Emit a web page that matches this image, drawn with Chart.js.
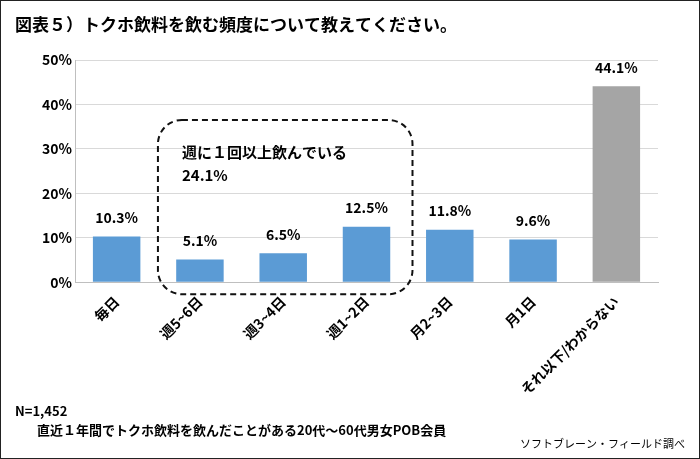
<!DOCTYPE html>
<html><head><meta charset="utf-8">
<script src="https://cdn.jsdelivr.net/npm/chart.js@4"></script>
<style>
html,body{margin:0;padding:0;background:#fff}
#wrap{width:700px;height:459px;position:relative;box-sizing:border-box;border:1.5px solid #222}
</style></head><body>
<div id="wrap"><canvas id="c" width="697" height="456"></canvas></div>
<script>
var categories = ['毎日', '週5~6日', '週3~4日', '週1~2日', '月2~3日', '月1日', 'それ以下/わからない'];
var values = [10.3, 5.1, 6.5, 12.5, 11.8, 9.6, 44.1];
var barColors = ['#5B9BD5', '#5B9BD5', '#5B9BD5', '#5B9BD5', '#5B9BD5', '#5B9BD5', '#A5A5A5'];
var weeklyTotal = 24.1;
var FONT = '"Noto Sans CJK JP", "Noto Sans", sans-serif';

var extras = {
    id: 'extras',
    afterDatasetsDraw: function(chart) {
        var ctx = chart.ctx, x = chart.scales.x, y = chart.scales.y;
        ctx.save();
        ctx.fillStyle = '#000';
        ctx.font = 'bold 14px ' + FONT;
        ctx.textAlign = 'center';
        ctx.textBaseline = 'bottom';
        var meta = chart.getDatasetMeta(0);
        meta.data.forEach(function(bar, i) {
            ctx.fillText(values[i].toFixed(1) + '%', bar.x, bar.y - 12);
        });
        // dashed box around weekly bars
        var left = x.getPixelForValue(1) - 42, right = x.getPixelForValue(3) + 46;
        var top = y.getPixelForValue(36.5), bottom = y.getPixelForValue(-2.7);
        ctx.setLineDash([6, 4]);
        ctx.lineWidth = 2;
        ctx.strokeStyle = '#111';
        ctx.beginPath();
        ctx.roundRect(left, top, right - left, bottom - top, 24);
        ctx.stroke();
        ctx.setLineDash([]);
        ctx.textAlign = 'left';
        ctx.textBaseline = 'middle';
        ctx.font = 'bold 15px ' + FONT;
        ctx.fillText('週に１回以上飲んでいる', left + 24, top + 32);
        ctx.fillText(weeklyTotal.toFixed(1) + '%', left + 24, top + 55);
        // title and footer
        ctx.font = 'bold 17px ' + FONT;
        ctx.fillText('図表５）トクホ飲料を飲む頻度について教えてください。', 14, 24);
        ctx.font = 'bold 13px ' + FONT;
        ctx.fillText('N=1,452', 14, 410);
        ctx.fillText('直近１年間でトクホ飲料を飲んだことがある20代～60代男女POB会員', 36, 429);
        ctx.font = '11px ' + FONT;
        ctx.textAlign = 'right';
        ctx.fillText('ソフトブレーン・フィールド調べ', 684, 443);
        ctx.restore();
    }
};

new Chart(document.getElementById('c'), {
    type: 'bar',
    data: {
        labels: categories,
        datasets: [{ data: values, backgroundColor: barColors, categoryPercentage: 0.57, barPercentage: 1 }]
    },
    options: {
        responsive: false,
        animation: false,
        layout: { padding: { top: 59, left: 38, right: 40, bottom: 56 } },
        plugins: { legend: { display: false }, tooltip: { enabled: false } },
        scales: {
            y: {
                min: 0, max: 50,
                ticks: { stepSize: 10, color: '#000', font: { family: FONT, size: 14, weight: 'bold' }, callback: function(v) { return v + '%'; } },
                grid: { color: '#D9D9D9', drawTicks: false },
                border: { color: '#BFBFBF' }
            },
            x: {
                ticks: { minRotation: 45, maxRotation: 45, color: '#000', font: { family: FONT, size: 14, weight: 'bold' } },
                grid: { display: false },
                border: { color: '#BFBFBF' }
            }
        }
    },
    plugins: [extras]
});
</script>
</body></html>
